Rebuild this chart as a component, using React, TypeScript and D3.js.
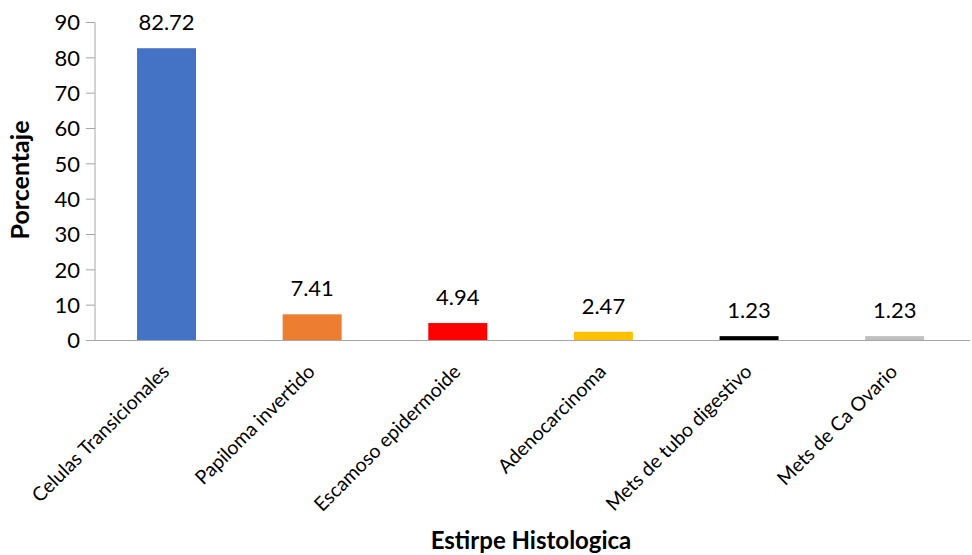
import React from "react";
import * as d3 from "d3";

const categories = [
  "Celulas Transicionales",
  "Papiloma invertido",
  "Escamoso epidermoide",
  "Adenocarcinoma",
  "Mets de tubo digestivo",
  "Mets de Ca Ovario",
];
const values = [82.72, 7.41, 4.94, 2.47, 1.23, 1.23];
const colors = ["#4472C4", "#ED7D31", "#FF0000", "#FFC000", "#000000", "#BFBFBF"];
const yTicks = [0, 10, 20, 30, 40, 50, 60, 70, 80, 90];

const W = 972;
const H = 555;
const left = 93.7;
const right = 967.5;
const top = 22.5;
const bottom = 340.5;
const FONT = "Lato, 'Open Sans', sans-serif";

export default function App() {
  const x = d3.scaleBand<string>().domain(categories).range([left, right]).paddingInner(0.595).paddingOuter(0.2975);
  const y = d3.scaleLinear().domain([0, 90]).range([bottom, top]);
  const bw = x.bandwidth();
  return (
    <svg width={W} height={H} style={{ position: "absolute", left: 0, top: 0 }}>
      <rect x={0} y={0} width={W} height={H} fill="#fff" />
      {categories.map((c, i) => (
        <rect key={c} x={x(c)!} y={y(values[i])} width={bw} height={bottom - y(values[i])} fill={colors[i]} />
      ))}
      <line x1={95} x2={970} y1={bottom} y2={bottom} stroke="#A6A6A6" strokeWidth={1} />
      <line x1={95} x2={95} y1={top} y2={bottom} stroke="#A6A6A6" strokeWidth={1} />
      {yTicks.map((t) => (
        <g key={t}>
          <line x1={86} x2={95} y1={y(t)} y2={y(t)} stroke="#A6A6A6" strokeWidth={1} />
          <text x={80} y={y(t)} dy="0.36em" textAnchor="end" fontSize={22} fontFamily={FONT} fill="#000">
            {t}
          </text>
        </g>
      ))}
      {categories.map((c, i) => (
        <text
          key={"v" + c}
          x={x(c)! + bw / 2}
          y={y(values[i]) - 18}
          textAnchor="middle"
          fontSize={22}
          fontFamily={FONT}
          fill="#000"
        >
          {values[i].toFixed(2)}
        </text>
      ))}
      {categories.map((c) => {
        const cx = x(c)! + bw / 2 + 4;
        const cy = 373;
        return (
          <text
            key={"c" + c}
            x={cx}
            y={cy}
            textAnchor="end"
            fontSize={19.5}
            fontFamily={FONT}
            fill="#000"
            transform={`rotate(-45, ${cx}, ${cy})`}
          >
            {c}
          </text>
        );
      })}
      <text
        x={0}
        y={0}
        transform={`translate(29, 180) rotate(-90)`}
        textAnchor="middle"
        fontSize={25}
        fontWeight="bold"
        fontFamily={FONT}
        fill="#000"
      >
        Porcentaje
      </text>
      <text x={531} y={549} textAnchor="middle" fontSize={24} fontWeight="bold" fontFamily={FONT} fill="#000">
        Estirpe Histologica
      </text>
    </svg>
  );
}
